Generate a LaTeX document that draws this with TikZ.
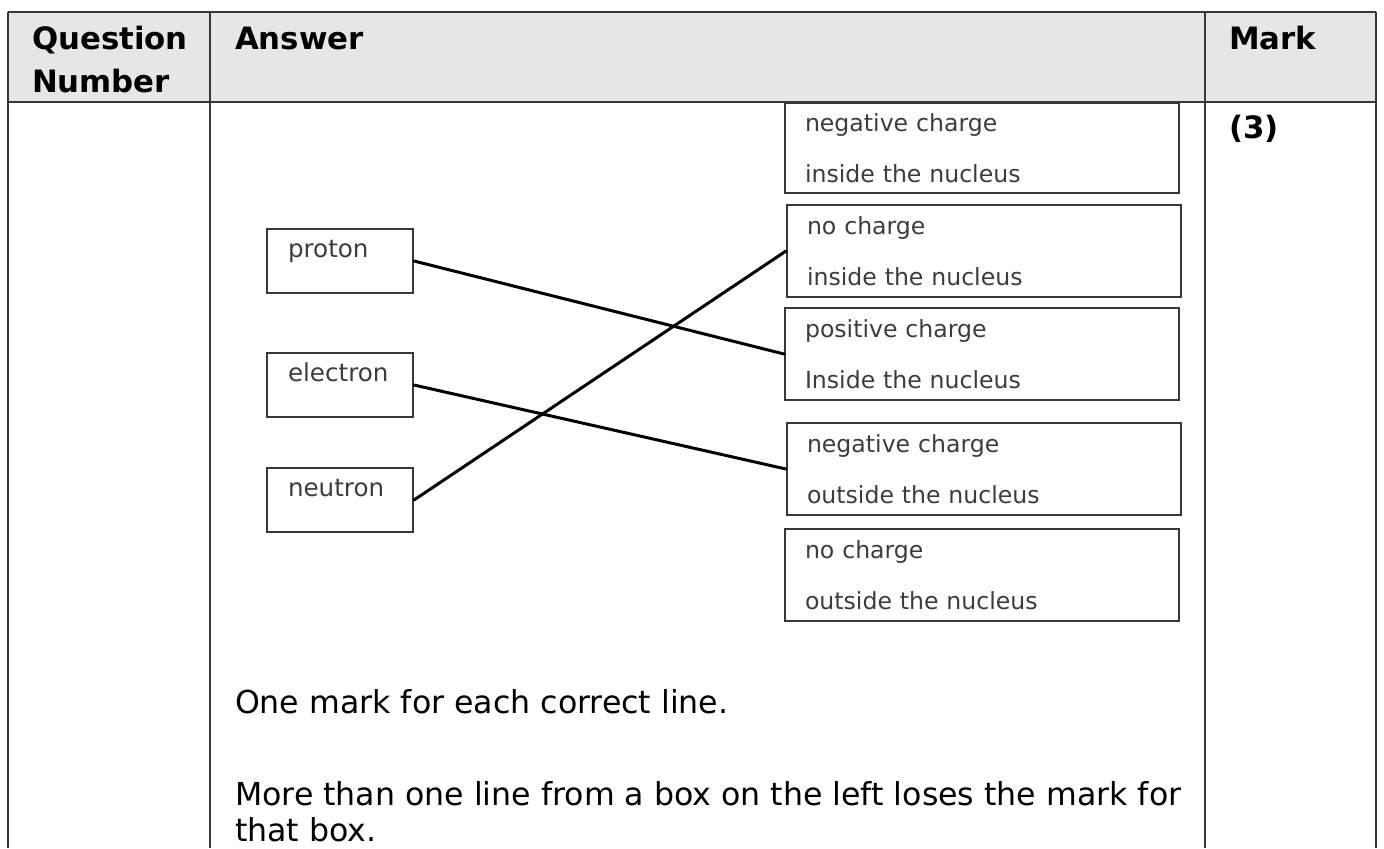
\documentclass[tikz,border=0pt]{standalone}
\usepackage{fontspec}
\setmainfont{DejaVu Sans}
\usepackage{xcolor}
\usepackage{tikz}
\usetikzlibrary{positioning}
\definecolor{HeadGray}{HTML}{E6E6E6}
\definecolor{RuleGray}{HTML}{383838}
\definecolor{BoxText}{HTML}{3C3C3C}

\tikzset{
  lbox/.style={draw=RuleGray, line width=1pt, anchor=north west, inner xsep=10.5pt, inner ysep=0pt,
    text width=52pt, text height=14pt, text depth=18pt, align=left, text=BoxText,
    font=\fontsize{12.3}{14}\selectfont},
  rbox/.style={draw=RuleGray, line width=1pt, anchor=north west, inner xsep=10pt, inner ysep=0pt,
    text width=177pt, minimum height=46pt, align=left, text=BoxText,
    font=\fontsize{11.8}{25.5}\selectfont},
  head/.style={anchor=base west, font=\fontsize{15.4}{21.5}\selectfont\bfseries},
  body/.style={anchor=base west, font=\fontsize{15.8}{20}\selectfont},
  link/.style={line width=1.5pt, line cap=round}
}

\begin{document}
\begin{tikzpicture}[x=0.5pt,y=-0.5pt]
\useasboundingbox (0,0) rectangle (1384,848);
% table
\fill[HeadGray] (8,12) rectangle (1376,102);
\draw[RuleGray,line width=1pt] (8,12) -- (1376,12);
\draw[RuleGray,line width=1pt] (8,102) -- (1376,102);
\foreach \xx in {8,210,1205,1376}
  \draw[RuleGray,line width=1pt] (\xx,12) -- (\xx,848);
\node[head] (qn1) at (25,49) {Question};
\node[head] (qn2) at (25,92) {Number};
\node[head] (ans) at (228,49) {Answer};
\node[head] (mark) at (1222,49) {Mark};
\node[head] (score) at (1222,138) {(3)};

% particles
\node[lbox] (proton) at (266,228) {proton};
\node[lbox] (electron) at (266,352) {electron};
\node[lbox] (neutron) at (266,467) {neutron};

% descriptions
\node[rbox,minimum height=45pt] (negin) at (784,102) {negative charge\\inside the nucleus};
\node[rbox] (noin) at (786,204) {no charge\\inside the nucleus};
\node[rbox] (posin) at (784,307) {positive charge\\Inside the nucleus};
\node[rbox] (negout) at (786,422) {negative charge\\outside the nucleus};
\node[rbox] (noout) at (784,528) {no charge\\outside the nucleus};

% answers
\draw[link] (proton.east) -- (posin.west);
\draw[link] (electron.east) -- (negout.west);
\draw[link] (neutron.east) -- (noin.west);

\node[body] (note1) at (228,713) {One mark for each correct line.};
\node[body] (note2) at (228,805) {More than one line from a box on the left loses the mark for};
\node[body] (note3) at (228,841) {that box.};
\end{tikzpicture}
\end{document}
